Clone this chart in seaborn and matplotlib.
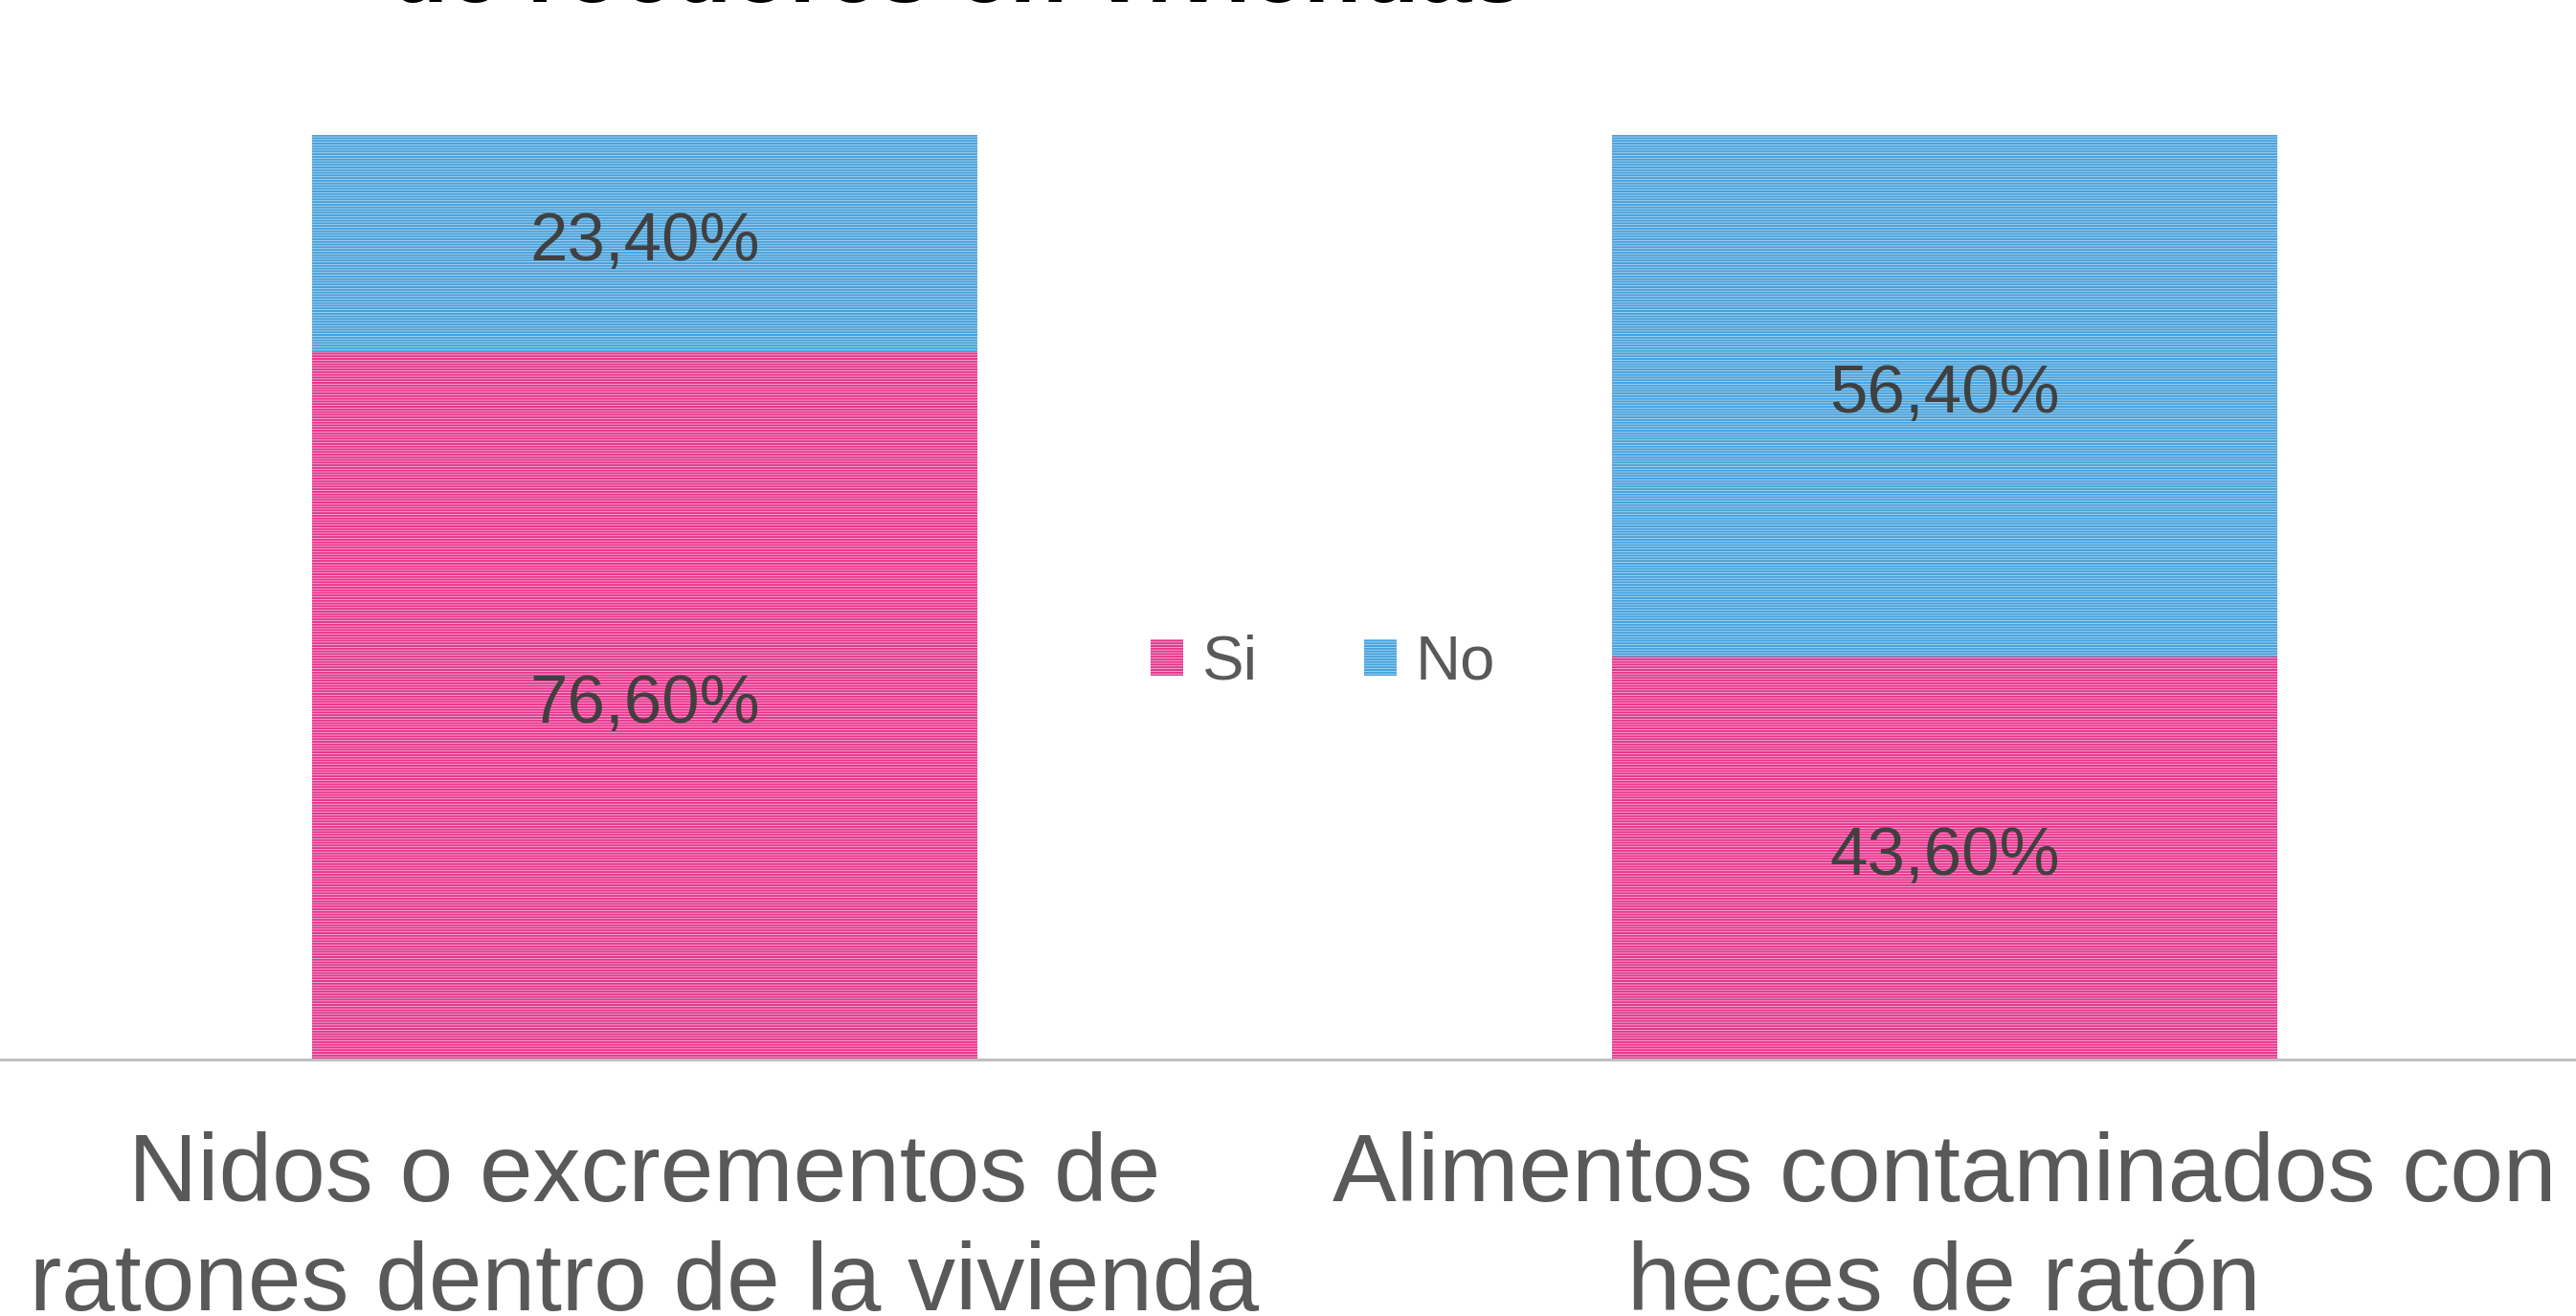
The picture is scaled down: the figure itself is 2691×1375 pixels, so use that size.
import matplotlib
matplotlib.use("Agg")
import matplotlib.pyplot as plt
import seaborn as sns
import pandas as pd
from matplotlib.patches import Patch

categories = ["Nidos o excrementos de\nratones dentro de la vivienda",
              "Alimentos contaminados con\nheces de ratón"]
si_values = [76.6, 43.6]
no_values = [23.4, 56.4]
si_labels = ["76,60%", "43,60%"]
no_labels = ["23,40%", "56,40%"]
series_names = ["Si", "No"]
title_text = "de roedores en viviendas"

sns.set_style("white")
plt.rcParams["font.family"] = ["Liberation Sans", "DejaVu Sans"]
plt.rcParams["hatch.linewidth"] = 0.6

W, H, DPI = 2691, 1375, 100
fig = plt.figure(figsize=(W / DPI, H / DPI), dpi=DPI)
ax = fig.add_axes([0, 1 - 1107 / H, 1, (1107 - 141) / H])

df = pd.DataFrame({"cat": categories, "si": si_values, "no": no_values})
df["total"] = df["si"] + df["no"]

pink, pink_l = "#E6338D", "#F7B5D5"
blue, blue_l = "#47A1DB", "#B0D8F2"

sns.barplot(data=df, x="cat", y="total", color=blue, width=0.512, ax=ax,
            saturation=1, linewidth=0)
n_blue = len(ax.patches)
sns.barplot(data=df, x="cat", y="si", color=pink, width=0.512, ax=ax,
            saturation=1, linewidth=0)
for i, p in enumerate(ax.patches):
    if i < n_blue:
        p.set_facecolor(blue); p.set_edgecolor(blue_l)
    else:
        p.set_facecolor(pink); p.set_edgecolor(pink_l)
    p.set_hatch("------")
    p.set_linewidth(0)

ax.set_xlim(-0.496, 1.486)
ax.set_ylim(0, 100)
ax.set_xlabel(""); ax.set_ylabel("")
ax.set_yticks([])
for s in ["top", "left", "right"]:
    ax.spines[s].set_visible(False)
ax.spines["bottom"].set_color("#BFBFBF")
ax.spines["bottom"].set_linewidth(2.2)
ax.tick_params(axis="x", length=0, pad=54, labelsize=72, labelcolor="#595959")
for t in ax.get_xticklabels():
    t.set_linespacing(1.27)

for i in range(len(categories)):
    ax.text(i, si_values[i] / 2, si_labels[i], ha="center", va="center",
            fontsize=51, color="#404040")
    ax.text(i, si_values[i] + no_values[i] / 2, no_labels[i], ha="center",
            va="center", fontsize=51, color="#404040")

handles = [Patch(facecolor=pink, edgecolor=pink_l, hatch="------", linewidth=0),
           Patch(facecolor=blue, edgecolor=blue_l, hatch="------", linewidth=0)]
fig.legend(handles, series_names, loc="center", bbox_to_anchor=(1382 / W, 1 - 693 / H),
           ncol=2, frameon=False, fontsize=47, labelcolor="#595959",
           handlelength=0.52, handleheight=0.52, handletextpad=0.31,
           columnspacing=1.7)

fig.text(1000 / W, 1 - 2 / H, title_text, ha="center", va="baseline",
         fontsize=71, fontweight="bold", color="black")

fig.savefig("out.png", dpi=DPI)
